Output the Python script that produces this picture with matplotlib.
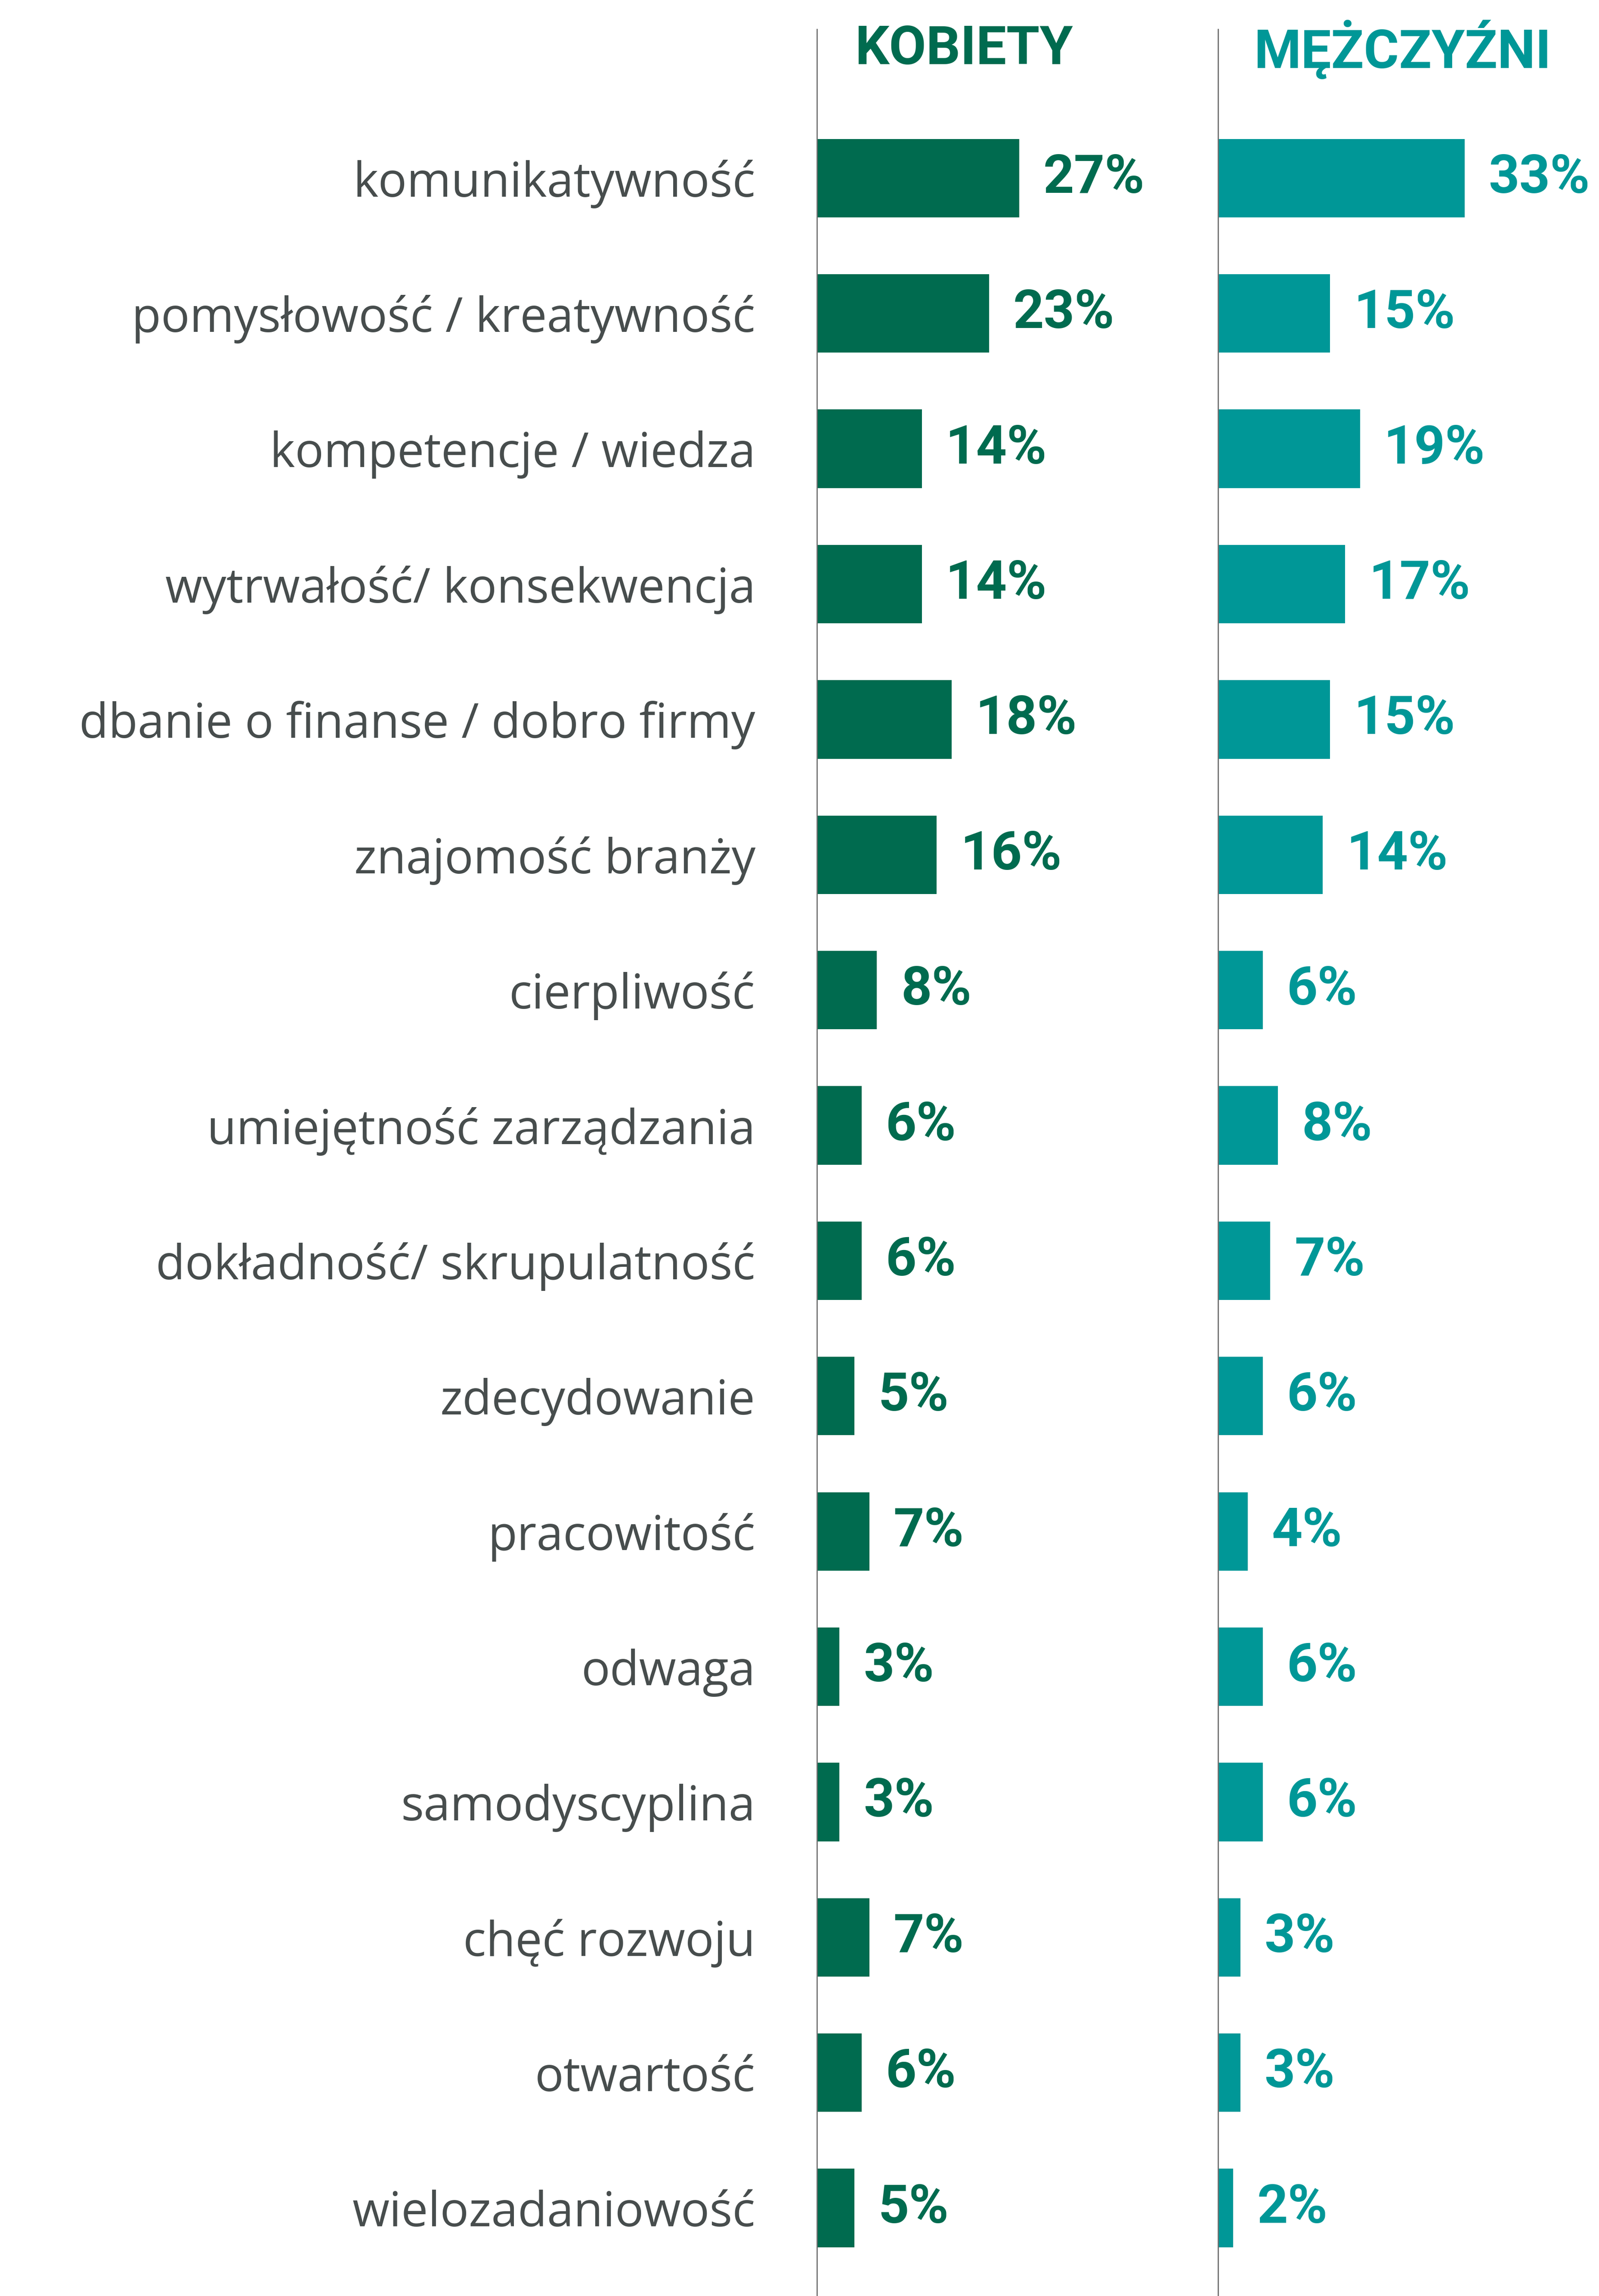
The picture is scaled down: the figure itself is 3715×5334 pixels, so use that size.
import numpy as np
import matplotlib.pyplot as plt

categories = [
    "komunikatywność",
    "pomysłowość / kreatywność",
    "kompetencje / wiedza",
    "wytrwałość/ konsekwencja",
    "dbanie o finanse / dobro firmy",
    "znajomość branży",
    "cierpliwość",
    "umiejętność zarządzania",
    "dokładność/ skrupulatność",
    "zdecydowanie",
    "pracowitość",
    "odwaga",
    "samodyscyplina",
    "chęć rozwoju",
    "otwartość",
    "wielozadaniowość",
]
kobiety = [27, 23, 14, 14, 18, 16, 8, 6, 6, 5, 7, 3, 3, 7, 6, 5]
mezczyzni = [33, 15, 19, 17, 15, 14, 6, 8, 7, 6, 4, 6, 6, 3, 3, 2]
headers = ["KOBIETY", "MĘŻCZYŹNI"]

GREEN = "#006b4f"
TEAL = "#009797"
LABEL = "#474d4d"
SPINE = "#6e6e6e"
FONT = "Roboto"
LABEL_FONT = "Open Sans"

W, H = 3715, 5334
fig = plt.figure(figsize=(W / 100, H / 100), dpi=100, facecolor="white")

top_frac = (H - 68) / H
# left panel from x=1898px, right panel from x=2830px
ax_l = fig.add_axes([1898 / W, 0, 800 / W, top_frac])
ax_r = fig.add_axes([2830 / W, 0, 885 / W, top_frac])

y = np.arange(len(categories))
panels = [
    (ax_l, kobiety, GREEN, 800 / 17.4, 19.6),
    (ax_r, mezczyzni, TEAL, 885 / 17.35, 24.7),
]

for i, (ax, vals, color, xmax, hx) in enumerate(panels):
    ax.barh(y, vals, height=0.58, color=color)
    ax.set_xlim(0, xmax)
    ax.set_ylim(15.65, -1.10)
    for yi, v in zip(y, vals):
        ax.annotate(f"{v}%", (v, yi), xytext=(40, 0), textcoords="offset points",
                    va="center", ha="left", fontsize=90, fontweight="bold",
                    color=color, family=FONT)
    ax.text(hx, -0.95, headers[i], ha="center", va="center", fontsize=90,
            fontweight="bold", color=color, family=FONT)
    for side in ["top", "right", "bottom"]:
        ax.spines[side].set_visible(False)
    ax.spines["left"].set_color(SPINE)
    ax.spines["left"].set_linewidth(2)
    ax.set_xticks([])
    ax.tick_params(axis="y", length=0)
    ax.set_facecolor("none")

ax_l.set_yticks(y)
ax_l.set_yticklabels(categories, fontsize=80, color=LABEL, family=LABEL_FONT,
                     fontweight="normal")
ax_l.tick_params(axis="y", pad=103)
ax_r.set_yticks([])

fig.savefig("out.png", dpi=100, facecolor="white")
